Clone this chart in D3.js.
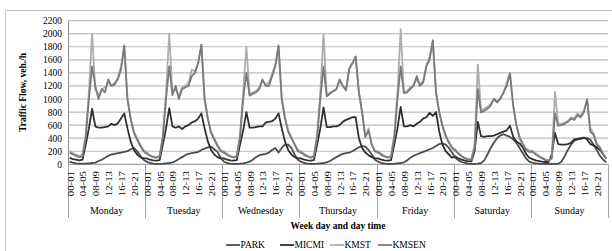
<!DOCTYPE html>
<html>
<head>
<meta charset="utf-8">
<script src="https://cdn.jsdelivr.net/npm/d3@7"></script>
<style>
  body { margin: 0; background: #fff; }
  svg { display: block; font-family: "Liberation Serif", "Times New Roman", serif; }
</style>
</head>
<body>
<svg id="chart" width="612" height="251"></svg>
<script>
var days = ["Monday", "Tuesday", "Wednesday", "Thursday", "Friday", "Saturday", "Sunday"];
var hourLabels = ["00-01", "04-05", "08-09", "12-13", "16-17", "20-21"];
var hourLabelIndex = [0, 4, 8, 12, 16, 20];
var yTicks = [0, 200, 400, 600, 800, 1000, 1200, 1400, 1600, 1800, 2000, 2200];
var seriesNames = ["PARK", "MICMI", "KMST", "KMSEN"];

// hourly values, one row per day (Mon..Sun)
var park = [].concat(
  [40, 25, 15, 10, 10, 10, 15, 20, 25, 50, 70, 100, 130, 150, 160, 170, 180, 190, 200, 230, 250, 200, 130, 70],
  [40, 20, 10, 8, 8, 10, 15, 20, 30, 50, 80, 110, 140, 160, 170, 180, 190, 220, 240, 260, 270, 230, 190, 100],
  [40, 20, 10, 8, 8, 10, 15, 25, 40, 70, 110, 140, 150, 160, 180, 220, 250, 180, 250, 300, 300, 250, 150, 70],
  [40, 20, 10, 8, 8, 10, 15, 20, 30, 50, 80, 110, 140, 160, 170, 180, 200, 230, 260, 280, 270, 220, 150, 70],
  [40, 20, 10, 8, 8, 10, 15, 20, 30, 60, 100, 130, 150, 170, 190, 210, 230, 250, 280, 310, 320, 300, 250, 180],
  [100, 60, 35, 20, 10, 8, 8, 10, 20, 60, 150, 250, 330, 400, 440, 460, 440, 420, 380, 330, 250, 170, 90, 40],
  [25, 15, 10, 8, 8, 8, 8, 8, 10, 40, 120, 220, 300, 360, 380, 390, 400, 400, 380, 300, 220, 130, 70, 30]
);
var micmi = [].concat(
  [100, 80, 70, 60, 70, 300, 550, 850, 580, 560, 560, 570, 580, 620, 600, 630, 700, 780, 550, 350, 220, 150, 110, 90],
  [90, 70, 60, 55, 65, 300, 550, 860, 580, 560, 580, 540, 580, 600, 640, 660, 700, 780, 550, 350, 220, 150, 110, 90],
  [90, 70, 60, 55, 65, 300, 520, 800, 560, 560, 570, 580, 580, 640, 650, 660, 700, 780, 550, 350, 220, 150, 110, 90],
  [90, 70, 60, 55, 65, 300, 550, 870, 570, 570, 580, 580, 600, 650, 680, 700, 720, 720, 400, 250, 180, 140, 110, 90],
  [90, 70, 60, 55, 65, 300, 550, 880, 580, 580, 600, 580, 620, 650, 700, 720, 790, 740, 800, 500, 300, 200, 150, 100],
  [120, 90, 70, 55, 45, 45, 200, 650, 430, 420, 430, 430, 440, 460, 480, 500, 520, 590, 420, 350, 320, 260, 160, 100],
  [80, 60, 50, 40, 35, 35, 150, 480, 310, 300, 300, 310, 330, 380, 390, 400, 410, 380, 310, 290, 260, 220, 150, 90]
);
var kmst = [].concat(
  [200, 170, 150, 130, 140, 450, 1100, 2000, 1150, 1050, 1150, 1180, 1250, 1200, 1250, 1320, 1500, 1800, 1000, 700, 500, 400, 300, 220],
  [180, 140, 120, 110, 130, 450, 1100, 2000, 1100, 1150, 1050, 1180, 1200, 1250, 1450, 1420, 1550, 1830, 1000, 700, 500, 400, 300, 220],
  [200, 160, 130, 110, 130, 450, 1100, 1800, 1080, 1100, 1120, 1180, 1280, 1220, 1250, 1380, 1520, 1800, 1000, 720, 520, 420, 310, 220],
  [200, 160, 130, 110, 130, 450, 1100, 2000, 1050, 1100, 1120, 1150, 1280, 1200, 1150, 1450, 1550, 1650, 1100, 800, 400, 550, 300, 200],
  [200, 160, 130, 110, 130, 450, 1100, 2070, 1100, 1120, 1180, 1220, 1300, 1220, 1280, 1520, 1650, 1880, 1100, 800, 600, 450, 350, 260],
  [230, 170, 130, 100, 80, 80, 300, 1530, 820, 850, 880, 920, 1000, 950, 1020, 1100, 1250, 1400, 900, 600, 420, 320, 240, 210],
  [210, 170, 130, 100, 75, 60, 100, 1110, 620, 620, 640, 660, 720, 700, 780, 740, 820, 1000, 550, 480, 320, 260, 160, 90]
);
var kmsen = [].concat(
  [180, 150, 130, 110, 120, 400, 1000, 1500, 1200, 1000, 1150, 1100, 1300, 1200, 1220, 1300, 1450, 1820, 1000, 700, 480, 380, 280, 200],
  [160, 130, 110, 100, 120, 400, 1000, 1500, 1060, 1200, 1000, 1150, 1180, 1200, 1350, 1400, 1550, 1830, 1000, 700, 480, 380, 280, 200],
  [180, 140, 120, 100, 120, 400, 1000, 1400, 1050, 1080, 1100, 1150, 1300, 1200, 1200, 1350, 1500, 1820, 1000, 700, 500, 400, 300, 200],
  [180, 140, 120, 100, 120, 400, 1000, 1500, 1040, 1080, 1120, 1150, 1300, 1200, 1130, 1470, 1550, 1650, 1100, 800, 420, 520, 300, 200],
  [180, 140, 120, 100, 120, 400, 1000, 1500, 1090, 1100, 1150, 1200, 1350, 1200, 1250, 1500, 1600, 1900, 1100, 800, 580, 430, 330, 250],
  [210, 160, 120, 90, 70, 70, 250, 1150, 790, 820, 850, 900, 1000, 950, 1000, 1100, 1200, 1390, 900, 600, 400, 300, 220, 190],
  [190, 150, 120, 90, 65, 55, 90, 780, 590, 600, 620, 650, 700, 680, 750, 720, 800, 990, 500, 450, 300, 250, 150, 80]
);
var seriesValues = [park, micmi, kmst, kmsen];
var seriesColors = ["#4d4d4d", "#2f2f2f", "#adadad", "#7a7a7a"];

var svg = d3.select("#chart");
var plotLeft = 68, plotRight = 608, plotTop = 20.6, plotBottom = 164.3;

// chart frame
svg.append("rect").attr("x", 5.5).attr("y", 10.5).attr("width", 610).attr("height", 245)
  .attr("fill", "none").attr("stroke", "#c4c4c4").attr("stroke-width", 1);

var hourIdx = d3.range(days.length * 24);
var x = d3.scaleBand().domain(hourIdx).range([plotLeft, plotRight]).padding(0);
var xDay = d3.scaleBand().domain(days).range([plotLeft, plotRight]).padding(0);
var y = d3.scaleLinear().domain([0, 2200]).range([plotBottom, plotTop]);

// gridlines
svg.append("g").selectAll("line").data(yTicks.slice(1)).join("line")
  .attr("x1", plotLeft).attr("x2", plotRight)
  .attr("y1", function(d) { return y(d); }).attr("y2", function(d) { return y(d); })
  .attr("stroke", "#bdbdbd").attr("stroke-width", 1.2);

// y axis
var yAxis = svg.append("g").attr("transform", "translate(" + plotLeft + ",0)")
  .call(d3.axisLeft(y).tickValues(yTicks).tickFormat(d3.format("d")).tickSize(0).tickPadding(6));
yAxis.select(".domain").attr("stroke", "#8c8c8c");
yAxis.selectAll("text").attr("font-size", "9.5px").attr("font-family", "Liberation Serif, serif").attr("fill", "#000");

// x axis baseline
svg.append("line").attr("x1", plotLeft).attr("x2", plotRight).attr("y1", plotBottom).attr("y2", plotBottom)
  .attr("stroke", "#8c8c8c").attr("stroke-width", 1);

// day separators
var bounds = days.map(function(d) { return xDay(d); }).concat([plotRight]);
svg.append("g").selectAll("line").data(bounds).join("line")
  .attr("x1", function(d) { return Math.round(d) + 0.5; }).attr("x2", function(d) { return Math.round(d) + 0.5; })
  .attr("y1", plotBottom).attr("y2", 218)
  .attr("stroke", "#a6a6a6").attr("stroke-width", 1);

// hour labels (rotated, stretched along the text like the source)
var hourTicks = [];
days.forEach(function(d, di) {
  hourLabelIndex.forEach(function(h, hi) { hourTicks.push({ i: di * 24 + h, label: hourLabels[hi] }); });
});
svg.append("g").selectAll("text").data(hourTicks).join("text")
  .attr("transform", function(d) { return "translate(" + (x(d.i) + x.bandwidth() / 2 + 1.2) + ",171) rotate(-90) scale(1.35,1)"; })
  .attr("text-anchor", "end").attr("dy", "0.35em")
  .attr("font-size", "8px").attr("fill", "#000")
  .text(function(d) { return d.label; });

// day labels
svg.append("g").selectAll("text").data(days).join("text")
  .attr("x", function(d) { return xDay(d) + xDay.bandwidth() / 2; }).attr("y", 214)
  .attr("text-anchor", "middle").attr("font-size", "10px").attr("fill", "#000")
  .text(function(d) { return d; });

// axis titles
svg.append("text").attr("x", (plotLeft + plotRight) / 2).attr("y", 228.5).attr("text-anchor", "middle")
  .attr("font-size", "9.5px").attr("font-weight", "bold").text("Week day and day time");
svg.append("text").attr("transform", "translate(26," + ((plotTop + plotBottom) / 2) + ") rotate(-90)")
  .attr("text-anchor", "middle").attr("font-size", "9.5px").attr("font-weight", "bold")
  .text("Traffic Flow, veh./h");

// series lines
var line = d3.line()
  .x(function(d, i) { return x(i) + x.bandwidth() / 2; })
  .y(function(d) { return y(d); });
svg.append("g").selectAll("path").data(seriesValues).join("path")
  .attr("d", function(d) { return line(d); })
  .attr("fill", "none")
  .attr("stroke", function(d, i) { return seriesColors[i]; })
  .attr("stroke-width", 1.8).attr("stroke-linejoin", "round");

// legend
var legendX = [226, 280, 330, 378];
var legend = svg.append("g").selectAll("g").data(seriesNames).join("g")
  .attr("transform", function(d, i) { return "translate(" + legendX[i] + ",245)"; });
legend.append("line").attr("x1", 0).attr("x2", 14).attr("y1", 0).attr("y2", 0)
  .attr("stroke", function(d, i) { return seriesColors[i]; }).attr("stroke-width", 1.8);
legend.append("text").attr("x", 14.5).attr("dy", "0.35em").attr("font-size", "9.5px").attr("fill", "#000")
  .text(function(d) { return d; });
</script>
</body>
</html>
